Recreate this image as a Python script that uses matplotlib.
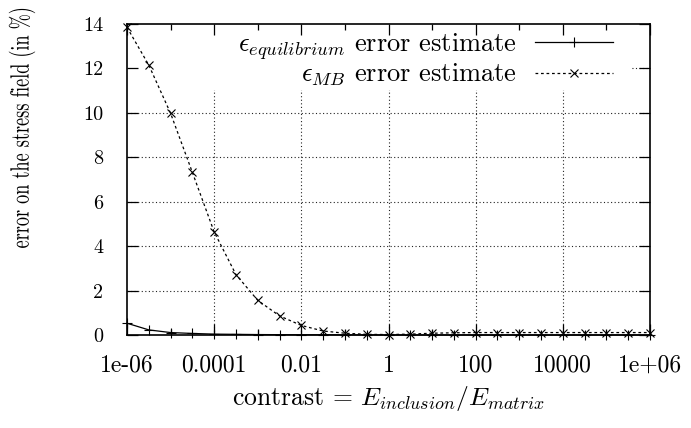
import numpy as np
import matplotlib
matplotlib.use("Agg")
import matplotlib.pyplot as plt
from matplotlib.patches import Rectangle
from matplotlib.ticker import FixedLocator, NullFormatter
from matplotlib.patheffects import AbstractPathEffect
from matplotlib.transforms import Affine2D

plt.rcParams['font.family'] = 'serif'
plt.rcParams['font.serif'] = ['cmr10', 'DejaVu Serif']
plt.rcParams['mathtext.fontset'] = 'cm'
plt.rcParams['axes.formatter.use_mathtext'] = True


class GlyphHeightStretch(AbstractPathEffect):
    """Scale a text path across its reading direction (glyph height), about its centre."""
    def __init__(self, sy):
        super().__init__()
        self.sy = sy

    def draw_path(self, renderer, gc, tpath, affine, rgbFace=None):
        ext = tpath.get_extents()
        cy = 0.5 * (ext.y0 + ext.y1)
        pre = Affine2D().translate(0, -cy).scale(1, self.sy).translate(0, cy)
        renderer.draw_path(gc, tpath, pre + affine, rgbFace)


# data: contrast sampled every half decade from 1e-6 to 1e6
exponents = [-6.0, -5.5, -5.0, -4.5, -4.0, -3.5, -3.0, -2.5, -2.0, -1.5, -1.0, -0.5,
             0.0, 0.5, 1.0, 1.5, 2.0, 2.5, 3.0, 3.5, 4.0, 4.5, 5.0, 5.5, 6.0]
contrast = [10.0 ** e for e in exponents]
err_equilibrium = [0.53, 0.23, 0.11, 0.07, 0.04, 0.03, 0.02, 0.015, 0.01, 0.01, 0.005, 0.005,
                   0.0, 0.0, 0.0, 0.0, 0.0, 0.0, 0.0, 0.0, 0.0, 0.0, 0.0, 0.0, 0.0]
err_mb = [13.85, 12.15, 9.98, 7.32, 4.64, 2.72, 1.56, 0.86, 0.43, 0.18, 0.08, 0.03,
          0.02, 0.04, 0.08, 0.10, 0.11, 0.11, 0.11, 0.11, 0.11, 0.11, 0.11, 0.11, 0.11]

xtick_vals = [1e-6, 1e-4, 1e-2, 1, 1e2, 1e4, 1e6]
xtick_labels = ['1e-06', '0.0001', '0.01', '1', '100', '10000', '1e+06']
xminor_vals = [1e-5, 1e-3, 1e-1, 1e1, 1e3, 1e5]
ytick_vals = [0, 2, 4, 6, 8, 10, 12, 14]

W, H = 691, 428
fig = plt.figure(figsize=(W / 100, H / 100), dpi=100)
ax = fig.add_axes([127 / W, 1 - 335 / H, 523 / W, 311 / H])

ax.set_xscale('log')
ax.set_xlim(1e-6, 1e6)
ax.set_ylim(0, 14)

# grid (dotted)
gkw = dict(color='#222222', lw=0.8, linestyle=(0, (1, 2.2)), zorder=0.5)
for xv in xtick_vals[1:-1]:
    ax.axvline(xv, **gkw)
for yv in ytick_vals[1:-1]:
    ax.axhline(yv, **gkw)

# opaque key area
ax.add_patch(Rectangle((0, (335 - 90) / 311), (632 - 127) / 523, 1 - (335 - 90) / 311,
                       transform=ax.transAxes, facecolor='white', edgecolor='none',
                       zorder=0.8))

ax.plot(contrast, err_equilibrium, color='black', lw=0.9, marker='+', ms=7, mew=0.8,
        label=r'$\epsilon_{equilibrium}$ error estimate', zorder=3, clip_on=False)
ax.plot(contrast, err_mb, color='black', lw=0.9, linestyle=(0, (2.2, 2.2)), marker='x', ms=6,
        mew=0.8, label=r'$\epsilon_{MB}$ error estimate', zorder=3, clip_on=False)

ax.xaxis.set_major_locator(FixedLocator(xtick_vals))
ax.xaxis.set_minor_locator(FixedLocator(xminor_vals))
ax.xaxis.set_minor_formatter(NullFormatter())
ax.set_xticklabels(xtick_labels)
ax.set_yticks(ytick_vals)
ax.set_yticklabels([str(v) for v in ytick_vals])

ax.tick_params(which='major', direction='in', length=8, width=0.9, top=True, right=True)
ax.tick_params(which='minor', direction='in', length=4, width=0.9, top=True, right=True)
ax.tick_params(axis='x', which='major', labelsize=17, pad=14)
ax.tick_params(axis='y', which='major', labelsize=14.5, pad=17)
for s in ax.spines.values():
    s.set_linewidth(1.2)

fig.text(388 / W, 1 - 405 / H, r'contrast = $E_{inclusion}/E_{matrix}$', fontsize=18.5,
         ha='center', va='baseline')
fig.text(22 / W, 1 - 128 / H, 'error on the stress field (in %)', fontsize=13.1,
         rotation=90, ha='center', va='center', path_effects=[GlyphHeightStretch(1.45)])

leg = ax.legend(loc='upper right', bbox_to_anchor=(613 / W, 1 - 31 / H),
                bbox_transform=fig.transFigure, frameon=False,
                markerfirst=False, fontsize=19, handlelength=2.95, handletextpad=0.7,
                labelspacing=0.0, borderaxespad=0.0, borderpad=0.0)

fig.savefig('out.png', dpi=100)
